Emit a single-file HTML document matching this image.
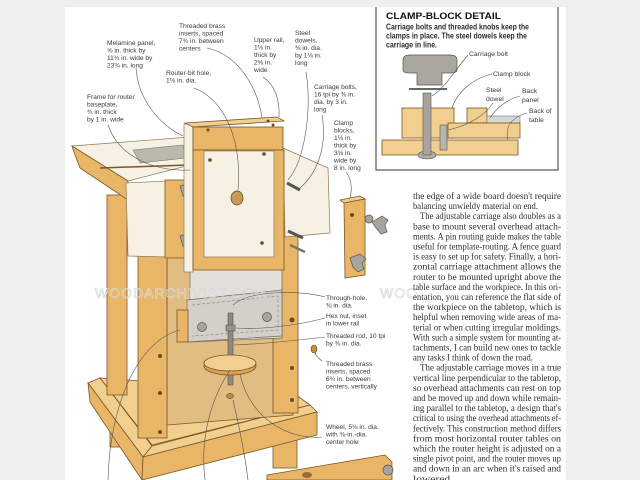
<!DOCTYPE html>
<html><head><meta charset="utf-8"><style>
html,body{margin:0;padding:0;background:#efefef;}
svg{display:block;}
.lb{font-family:"Liberation Sans",sans-serif;font-size:6.6px;fill:#3a3a3a;}
.tx{font-family:"Liberation Serif",serif;font-size:9.6px;fill:#2e2e2e;}
.dt{font-family:"Liberation Sans",sans-serif;font-size:8px;fill:#2a2a2a;font-weight:bold;}
.ld{fill:none;stroke:#555;stroke-width:0.6;}
.wd{fill:#e9b668;stroke:#7a5526;stroke-width:0.8;}
.wl{fill:#f1cf8f;stroke:#7a5526;stroke-width:0.8;}
.wk{fill:#d9a257;stroke:#7a5526;stroke-width:0.8;}
.cr{fill:#f6f1e3;stroke:#8a7a5a;stroke-width:0.7;}
.gy{fill:#d4d0c7;stroke:#6e6a62;stroke-width:0.7;}
.kn{fill:#a9a49b;stroke:#555;stroke-width:0.7;}
.dot{fill:#6a4a20;}
</style></head><body>
<svg width="640" height="480" viewBox="0 0 640 480" xmlns="http://www.w3.org/2000/svg">
<rect x="0" y="0" width="640" height="480" fill="#efefef"/>
<rect x="65" y="7" width="501" height="473" fill="#ffffff"/>

<!-- base -->
<polygon class="wl" points="100,378 152,445 310,405 292,392"/>
<rect class="wd" x="110" y="425" width="12" height="22"/>
<rect class="wd" x="273" y="430" width="24" height="38"/>
<polygon class="wl" points="88,383 100,378 152,446 143,457"/>
<polygon class="wd" points="88,383 143,457 142,480 90,402"/>
<polygon class="wl" points="143,457 152,446 310,405 317,412"/>
<polygon class="wd" points="143,457 317,412 317,435 142,480"/>

<!-- rear left leg -->
<rect class="wd" x="107" y="195" width="20" height="200"/>
<!-- back panel -->
<polygon class="wl" points="167,257 293,250 293,415 167,425" style="fill:#e2bd82"/>
<!-- right leg -->
<rect class="wd" x="273" y="228" width="25" height="185"/>
<circle class="dot" cx="292" cy="320" r="2.5"/><circle class="dot" cx="292" cy="368" r="2"/><circle class="dot" cx="292" cy="400" r="2"/>
<!-- front left leg -->
<rect class="wd" x="138" y="253" width="29" height="185"/>
<circle class="dot" cx="160" cy="356" r="2"/><circle class="dot" cx="160" cy="393" r="2"/><circle class="dot" cx="160" cy="432" r="2"/>

<!-- melamine lower part and lower rail -->
<polygon class="gy" points="190,262 282,258 282,338 190,342" style="fill:#e2e0da"/>
<polygon class="gy" points="187,300 282,290 282,336 187,342"/>
<polyline points="192,305 278,296 278,330 192,336" fill="none" stroke="#7b8fb0" stroke-width="0.7" stroke-dasharray="3,2"/>
<rect class="wd" x="177" y="310" width="11" height="32"/>
<circle class="kn" cx="202" cy="327" r="4.5"/><circle class="kn" cx="267" cy="317" r="4.5"/>
<!-- threaded rod and wheel -->
<rect x="228" y="313" width="5" height="72" fill="#8f8a80" stroke="#444" stroke-width="0.5"/>
<rect x="226" y="325" width="9" height="6" fill="#9a958c" stroke="#444" stroke-width="0.5"/>
<ellipse cx="230" cy="366" rx="26" ry="9" class="wk"/>
<ellipse cx="230" cy="363" rx="26" ry="8" class="wl"/>
<ellipse cx="230" cy="396" rx="3.5" ry="2.5" fill="#b58a4a" stroke="#333" stroke-width="0.5"/>

<!-- tabletop -->
<polygon class="cr" points="72,146 190,137 198,163 128,181"/>
<polygon points="133,150 183,145 186,158 140,163" fill="#bdb8ae" stroke="#666" stroke-width="0.5"/>
<polygon class="wd" points="72,146 128,181 128,200 80,168 75,155"/>
<line x1="100" y1="168" x2="188" y2="165" stroke="#7a5526" stroke-width="1.5"/>
<!-- left cream box -->
<polygon class="cr" points="126,183 167,181 167,257 128,256"/>
<!-- left clamp -->
<rect class="wd" x="165" y="180" width="31" height="78"/>
<rect class="wk" x="190" y="180" width="6" height="78"/>
<path class="kn" d="M180,186 l10,-3 l6,5 l-4,4 l2,6 l-6,3 l-5,-5 z"/>
<path class="kn" d="M180,236 l10,-3 l6,5 l-4,4 l2,6 l-6,3 l-5,-5 z"/>

<!-- right panel -->
<polygon class="cr" points="283,148 328,168 330,233 285,237"/>
<line x1="287" y1="183" x2="300" y2="190" stroke="#555" stroke-width="3"/>
<line x1="288" y1="231" x2="303" y2="238" stroke="#555" stroke-width="3"/>
<line x1="290" y1="245" x2="305" y2="252" stroke="#777" stroke-width="2.5"/>

<!-- center frame -->
<rect class="cr" x="184" y="124" width="9" height="148"/>
<polygon class="wl" points="185,123 277,117 284,121 193,127"/>
<rect class="wd" x="193" y="127" width="90" height="23"/>
<circle class="dot" cx="208" cy="130" r="1.5"/><circle class="dot" cx="268" cy="121" r="1.5"/><circle class="dot" cx="273" cy="125" r="1.5"/>
<rect class="wd" x="193" y="150" width="91" height="120"/>
<rect class="cr" x="204" y="151" width="70" height="106"/>
<ellipse cx="237" cy="198" rx="6" ry="7" fill="#c69a5c" stroke="#5a4020" stroke-width="0.7"/>
<circle class="dot" cx="210" cy="160" r="1.8"/><circle class="dot" cx="264" cy="154" r="1.8"/><circle class="dot" cx="262" cy="243" r="1.8"/>

<!-- right clamp block -->
<polygon class="wl" points="340,200 360,196 365,199 344,203"/>
<polygon class="wd" points="344,203 365,199 365,275 345,278"/>
<circle class="dot" cx="352" cy="215" r="2"/>
<circle class="kn" cx="369" cy="219" r="4"/>
<path class="kn" d="M372,222 l10,-6 l6,4 l-3,5 l2,7 l-6,2 l-5,-6 z"/>
<path class="kn" d="M350,258 l10,-4 l6,5 l-4,4 l2,6 l-6,3 l-5,-5 z"/>

<!-- bottom right board -->
<polygon class="wd" points="267,475 385,455 392,462 392,480 267,480"/>
<circle class="kn" cx="388" cy="470" r="5"/>
<ellipse cx="307" cy="475" rx="5" ry="3" fill="#9a6a30"/>
<!-- brass insert -->
<ellipse cx="314" cy="349" rx="3" ry="4" fill="#c58d40" stroke="#5a4020" stroke-width="0.6"/>

<!-- watermark -->
<text x="95" y="298" font-family="Liberation Sans,sans-serif" font-size="14" fill="none" stroke="#d8d8d8" stroke-width="0.7" letter-spacing="1">WOODARCHIVIST.COM</text>
<text x="380" y="298" font-family="Liberation Sans,sans-serif" font-size="14" fill="none" stroke="#d8d8d8" stroke-width="0.7" letter-spacing="1">WOO</text>

<!-- leader lines -->
<path class="ld" d="M136,68 C138,100 160,125 183,136"/>
<path class="ld" d="M207,48 C240,55 258,90 262,118"/>
<path class="ld" d="M263,77 C275,85 280,100 279,117"/>
<path class="ld" d="M194,88 C225,100 242,140 238,190"/>
<path class="ld" d="M108,125 C120,160 160,172 190,170"/>
<path class="ld" d="M306,72 C312,110 305,160 288,180"/>
<path class="ld" d="M322,115 C328,150 315,175 300,188"/>
<path class="ld" d="M346,172 C352,180 352,190 350,198"/>
<path class="ld" d="M325,297 C300,290 250,290 233,305"/>
<path class="ld" d="M325,318 C300,325 260,330 236,328"/>
<path class="ld" d="M325,337 C300,340 260,344 234,345"/>
<path class="ld" d="M322,361 C318,358 316,356 315,353"/>
<path class="ld" d="M322,437 C290,440 250,420 240,374"/>
<path class="ld" d="M230,370 C210,400 200,440 205,480"/>
<path class="ld" d="M233,400 C240,430 245,455 248,480"/>
<path class="ld" d="M180,330 C140,340 110,400 108,480"/>

<!-- labels -->
<g class="lb">
<text x="107" y="45">Melamine panel,</text><text x="107" y="52.5">⅝ in. thick by</text><text x="107" y="60">11¾ in. wide by</text><text x="107" y="67.5">23¾ in. long</text>
<text x="179" y="28">Threaded brass</text><text x="179" y="35.5">inserts, spaced</text><text x="179" y="43">7¾ in. between</text><text x="179" y="50.5">centers</text>
<text x="254" y="42">Upper rail,</text><text x="254" y="49.5">1⅛ in.</text><text x="254" y="57">thick by</text><text x="254" y="64.5">2⅝ in.</text><text x="254" y="72">wide</text>
<text x="295" y="35">Steel</text><text x="295" y="42.5">dowels,</text><text x="295" y="50">⅜ in. dia.</text><text x="295" y="57.5">by 1⅛ in.</text><text x="295" y="65">long</text>
<text x="166" y="75">Router-bit hole,</text><text x="166" y="82.5">1⅛ in. dia.</text>
<text x="87" y="99">Frame for router</text><text x="87" y="106.5">baseplate,</text><text x="87" y="114">¾ in. thick</text><text x="87" y="121.5">by 1 in. wide</text>
<text x="314" y="89">Carriage bolts,</text><text x="314" y="96.5">16 tpi by ⅜ in.</text><text x="314" y="104">dia. by 3 in.</text><text x="314" y="111.5">long</text>
<text x="334" y="125">Clamp</text><text x="334" y="132.5">blocks,</text><text x="334" y="140">1⅛ in.</text><text x="334" y="147.5">thick by</text><text x="334" y="155">3⅝ in.</text><text x="334" y="162.5">wide by</text><text x="334" y="170">8 in. long</text>
<text x="326" y="300">Through-hole,</text><text x="326" y="307.5">⅜ in. dia.</text>
<text x="326" y="318">Hex nut, inset</text><text x="326" y="325.5">in lower rail</text>
<text x="326" y="338">Threaded rod, 10 tpi</text><text x="326" y="345.5">by ⅜ in. dia.</text>
<text x="326" y="366">Threaded brass</text><text x="326" y="373.5">inserts, spaced</text><text x="326" y="381">6¾ in. between</text><text x="326" y="388.5">centers, vertically</text>
<text x="326" y="429">Wheel, 5⅛ in. dia.</text><text x="326" y="436.5">with ⅜-in.-dia.</text><text x="326" y="444">center hole</text>
</g>

<!-- detail box -->
<rect x="376" y="7" width="182" height="163" fill="#ffffff"/>
<polyline points="376,7 376,170 558,170 558,7" fill="none" stroke="#333" stroke-width="1"/>
<text x="386" y="19" font-family="Liberation Sans,sans-serif" font-size="9.5" font-weight="bold" fill="#111" textLength="115" lengthAdjust="spacingAndGlyphs">CLAMP-BLOCK DETAIL</text>
<text class="dt" x="386" y="29.5" textLength="143" lengthAdjust="spacingAndGlyphs">Carriage bolts and threaded knobs keep the</text>
<text class="dt" x="386" y="38.5" textLength="141" lengthAdjust="spacingAndGlyphs">clamps in place. The steel dowels keep the</text>
<text class="dt" x="386" y="47.5" textLength="51" lengthAdjust="spacingAndGlyphs">carriage in line.</text>
<!-- detail drawing -->
<rect class="wl" x="382" y="140" width="136" height="15"/>
<rect class="wl" x="402" y="108" width="52" height="30"/>
<rect class="wl" x="467" y="108" width="20" height="15"/>
<rect x="487" y="116" width="33" height="7" fill="#d9d7d2" stroke="#777" stroke-width="0.6"/>
<rect class="wl" x="448" y="123" width="72" height="15"/>
<rect x="440" y="125" width="7" height="25" fill="#b9b5ad" stroke="#555" stroke-width="0.6"/>
<ellipse cx="427" cy="155" rx="9" ry="4" fill="#b0aca4" stroke="#555" stroke-width="0.6"/>
<rect x="423" y="93" width="8" height="62" fill="#a9a49b" stroke="#555" stroke-width="0.6"/>
<rect x="409" y="88" width="38" height="2" fill="#666"/>
<path d="M403,60 Q403,55 410,55 L450,55 Q457,55 457,60 L457,70 Q457,73 450,73 L442,73 L442,85 L417,85 L417,73 L410,73 Q403,73 403,70 Z" fill="#aaa69d" stroke="#555" stroke-width="0.7"/>
<path class="ld" d="M468,55 C455,70 445,88 432,96"/>
<path class="ld" d="M492,74 C475,78 458,90 452,108"/>
<path class="ld" d="M493,103 C485,115 470,125 448,130"/>
<path class="ld" d="M520,96 C505,100 495,110 490,118"/>
<path class="ld" d="M527,113 C510,118 505,128 508,140"/>
<g class="lb" style="font-size:6.8px">
<text x="469" y="56">Carriage bolt</text>
<text x="493" y="76">Clamp block</text>
<text x="486" y="92">Steel</text><text x="486" y="101">dowel</text>
<text x="522" y="93">Back</text><text x="522" y="102">panel</text>
<text x="529" y="113">Back of</text><text x="529" y="122">table</text>
</g>

<!-- text column -->
<g class="tx">
<text x="413" y="199" textLength="148" lengthAdjust="spacingAndGlyphs">the edge of a wide board doesn't require</text>
<text x="413" y="209.1" textLength="125" lengthAdjust="spacingAndGlyphs">balancing unwieldy material on end.</text>
<text x="420" y="219.2" textLength="141" lengthAdjust="spacingAndGlyphs">The adjustable carriage also doubles as a</text>
<text x="413" y="229.3" textLength="148" lengthAdjust="spacingAndGlyphs">base to mount several overhead attach-</text>
<text x="413" y="239.4" textLength="148" lengthAdjust="spacingAndGlyphs">ments. A pin routing guide makes the table</text>
<text x="413" y="249.5" textLength="148" lengthAdjust="spacingAndGlyphs">useful for template-routing. A fence guard</text>
<text x="413" y="259.6" textLength="148" lengthAdjust="spacingAndGlyphs">is easy to set up for safety. Finally, a hori-</text>
<text x="413" y="269.7" textLength="148" lengthAdjust="spacingAndGlyphs">zontal carriage attachment allows the</text>
<text x="413" y="279.8" textLength="148" lengthAdjust="spacingAndGlyphs">router to be mounted upright above the</text>
<text x="413" y="289.9" textLength="148" lengthAdjust="spacingAndGlyphs">table surface and the workpiece. In this ori-</text>
<text x="413" y="300" textLength="148" lengthAdjust="spacingAndGlyphs">entation, you can reference the flat side of</text>
<text x="413" y="310.1" textLength="148" lengthAdjust="spacingAndGlyphs">the workpiece on the tabletop, which is</text>
<text x="413" y="320.2" textLength="148" lengthAdjust="spacingAndGlyphs">helpful when removing wide areas of ma-</text>
<text x="413" y="330.3" textLength="148" lengthAdjust="spacingAndGlyphs">terial or when cutting irregular moldings.</text>
<text x="413" y="340.4" textLength="148" lengthAdjust="spacingAndGlyphs">With such a simple system for mounting at-</text>
<text x="413" y="350.5" textLength="148" lengthAdjust="spacingAndGlyphs">tachments, I can build new ones to tackle</text>
<text x="413" y="360.6" textLength="120" lengthAdjust="spacingAndGlyphs">any tasks I think of down the road.</text>
<text x="420" y="370.7" textLength="141" lengthAdjust="spacingAndGlyphs">The adjustable carriage moves in a true</text>
<text x="413" y="380.8" textLength="148" lengthAdjust="spacingAndGlyphs">vertical line perpendicular to the tabletop,</text>
<text x="413" y="390.9" textLength="148" lengthAdjust="spacingAndGlyphs">so overhead attachments can rest on top</text>
<text x="413" y="401" textLength="148" lengthAdjust="spacingAndGlyphs">and be moved up and down while remain-</text>
<text x="413" y="411.1" textLength="148" lengthAdjust="spacingAndGlyphs">ing parallel to the tabletop, a design that's</text>
<text x="413" y="421.2" textLength="148" lengthAdjust="spacingAndGlyphs">critical to using the overhead attachments ef-</text>
<text x="413" y="431.3" textLength="148" lengthAdjust="spacingAndGlyphs">fectively. This construction method differs</text>
<text x="413" y="441.4" textLength="148" lengthAdjust="spacingAndGlyphs">from most horizontal router tables on</text>
<text x="413" y="451.5" textLength="148" lengthAdjust="spacingAndGlyphs">which the router height is adjusted on a</text>
<text x="413" y="461.6" textLength="148" lengthAdjust="spacingAndGlyphs">single pivot point, and the router moves up</text>
<text x="413" y="471.7" textLength="148" lengthAdjust="spacingAndGlyphs">and down in an arc when it's raised and</text>
<text x="413" y="481.8" textLength="40" lengthAdjust="spacingAndGlyphs">lowered.</text>
</g>
</svg>
</body></html>
